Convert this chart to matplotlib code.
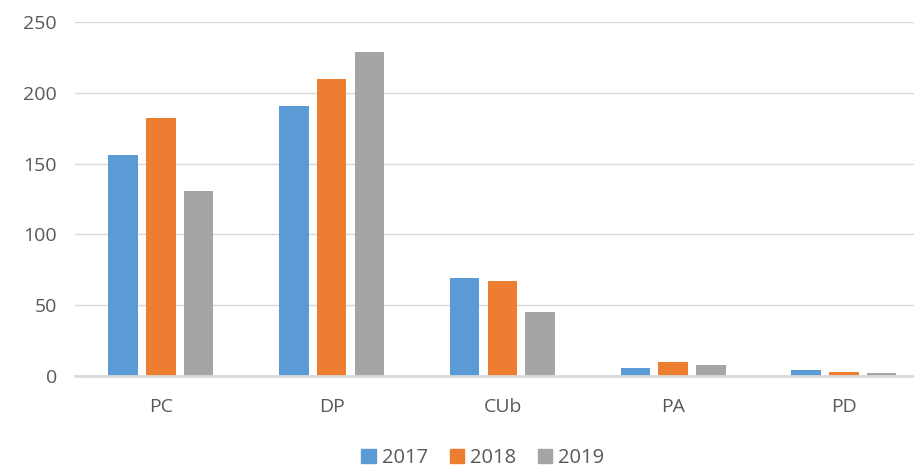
import numpy as np
import matplotlib.pyplot as plt
from matplotlib.patches import Patch

# values
categories = ["PC", "DP", "CUb", "PA", "PD"]
years = ["2017", "2018", "2019"]
v2017 = [156, 191, 69, 6, 4]
v2018 = [182, 210, 67, 10, 3]
v2019 = [131, 229, 45, 8, 2]
colors = ["#5B9BD5", "#ED7D31", "#A5A5A5"]

plt.rcParams["font.family"] = ["Open Sans", "DejaVu Sans"]
text_color = "#595959"
grid_color = "#D9D9D9"

fig = plt.figure(figsize=(9.14, 4.68), dpi=100)
ax = fig.add_axes([75 / 914, 92 / 468, (914 - 75) / 914, (376 - 22) / 468])

x = np.arange(len(categories))
step = 0.221
width = 0.173
for i, (vals, c) in enumerate(zip([v2017, v2018, v2019], colors)):
    ax.bar(x + (i - 1) * step, vals, width, color=c, label=years[i], zorder=3)

ax.set_xlim(-0.503, 4.41)
ax.set_ylim(0, 250)
ax.set_yticks(range(0, 251, 50))
ax.grid(axis="y", color=grid_color, linewidth=1, zorder=0)
ax.set_axisbelow(True)

for s in ["top", "right", "left"]:
    ax.spines[s].set_visible(False)
ax.spines["bottom"].set_color(grid_color)
ax.spines["bottom"].set_linewidth(2)
ax.spines["bottom"].set_zorder(4)

ax.set_xticks(x)
ax.set_xticklabels(categories)
ax.tick_params(axis="both", length=0, labelsize=14, colors=text_color)
ax.tick_params(axis="x", pad=16)
ax.tick_params(axis="y", pad=13)

handles = [Patch(color=c) for c in colors]
fig.legend(handles, years, loc="center", bbox_to_anchor=(483 / 914, 1 - 458 / 468),
           ncol=3, frameon=False, fontsize=14.5, labelcolor=text_color,
           handlelength=0.7, handleheight=0.7, handletextpad=0.3, columnspacing=1.1,
           borderpad=0.1)

fig.savefig("out.png", dpi=100)
